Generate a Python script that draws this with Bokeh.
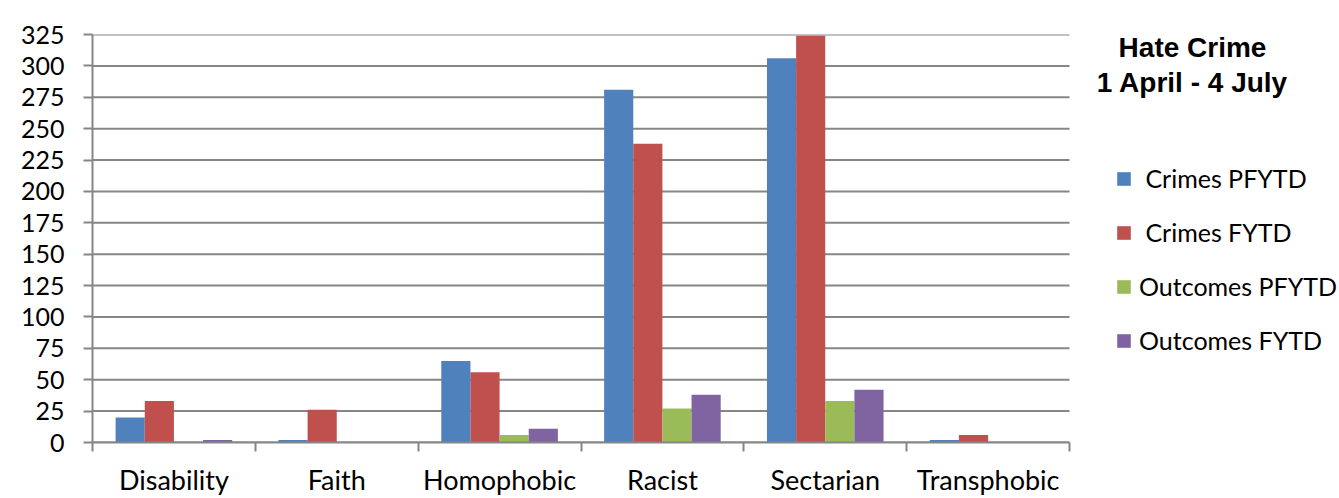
from bokeh.plotting import figure
from bokeh.models import Range1d, FixedTicker, Legend, LegendItem, Label, ColumnDataSource
from bokeh.transform import dodge
from bokeh.embed import file_html
from bokeh.resources import INLINE

categories = ["Disability", "Faith", "Homophobic", "Racist", "Sectarian", "Transphobic"]
series_names = [" Crimes PFYTD", " Crimes FYTD", "Outcomes PFYTD", "Outcomes FYTD"]
crimes_pfytd = [20, 2, 65, 281, 306, 2]
crimes_fytd = [33, 26, 56, 238, 324, 6]
outcomes_pfytd = [0, 0, 6, 27, 33, 0]
outcomes_fytd = [2, 0, 11, 38, 42, 0]
y_ticks = [0, 25, 50, 75, 100, 125, 150, 175, 200, 225, 250, 275, 300, 325]
title_lines = ["Hate Crime", "1 April - 4 July"]
colors = ["#4F81BD", "#C0504D", "#9BBB59", "#8064A2"]

GRAY = "#868686"
FONT = "Lato"

W, H = 1339, 498
BL, BR, BT, BB = 92, 2, 34, 55
PLOT_W = 977                      # pixel width of the category area
FRAME_W = W - BL - BR
n = len(categories)
x_end = n * FRAME_W / PLOT_W      # frame also holds the legend area on the right

centers = [i + 0.5 for i in range(n)]
source = ColumnDataSource(dict(
    xc=centers,
    s0=crimes_pfytd,
    s1=crimes_fytd,
    s2=outcomes_pfytd,
    s3=outcomes_fytd,
))
grid_src = ColumnDataSource(dict(y=y_ticks, x0=[0] * len(y_ticks), x1=[n] * len(y_ticks)))

p = figure(width=W, height=H, output_backend="svg", toolbar_location=None,
           x_range=Range1d(0, x_end), y_range=Range1d(0, 325),
           min_border_left=BL, min_border_right=BR, min_border_top=BT, min_border_bottom=BB)
p.outline_line_color = None
p.background_fill_color = "white"
p.border_fill_color = "white"
p.xgrid.grid_line_color = None
p.ygrid.grid_line_color = None

# horizontal gridlines limited to the category area
p.segment(x0="x0", x1="x1", y0="y", y1="y", source=grid_src,
          line_color=GRAY, line_width=2, level="underlay")

bar_w = 0.179
offsets = [-1.5 * bar_w, -0.5 * bar_w, 0.5 * bar_w, 1.5 * bar_w]
renderers = []
for k, (col, off) in enumerate(zip(["s0", "s1", "s2", "s3"], offsets)):
    r = p.vbar(x=dodge("xc", off), top=col, bottom=0, width=bar_w, source=source,
               fill_color=colors[k], line_color=None)
    renderers.append(r)

# y axis
ya = p.yaxis[0]
ya.ticker = FixedTicker(ticks=y_ticks, minor_ticks=[])
ya.axis_line_color = GRAY
ya.axis_line_width = 2
ya.major_tick_line_color = GRAY
ya.major_tick_line_width = 2
ya.major_tick_out = 9
ya.major_tick_in = 0
ya.minor_tick_line_color = None
ya.major_label_text_font = FONT
ya.major_label_text_font_size = "25px"
ya.major_label_text_color = "black"
ya.major_label_standoff = 19

# x axis
xa = p.xaxis[0]
xa.bounds = (0, n)
xa.ticker = FixedTicker(ticks=centers, minor_ticks=list(range(n + 1)))
xa.major_label_overrides = {c: name for c, name in zip(centers, categories)}
xa.axis_line_color = GRAY
xa.axis_line_width = 2
xa.major_tick_line_color = None
xa.major_tick_out = 9
xa.major_tick_in = 0
xa.minor_tick_line_color = GRAY
xa.minor_tick_line_width = 2
xa.minor_tick_out = 9
xa.minor_tick_in = 0
xa.major_label_text_font = FONT
xa.major_label_text_font_size = "27px"
xa.major_label_text_color = "black"
xa.major_label_standoff = 11

# title lines
p.add_layout(Label(x=1100, y=395, x_units="screen", y_units="screen", text=title_lines[0],
                   text_font="Liberation Sans", text_font_style="bold", text_font_size="28px",
                   text_align="center", text_baseline="alphabetic", text_color="black"))
p.add_layout(Label(x=1100, y=360, x_units="screen", y_units="screen", text=title_lines[1],
                   text_font="Liberation Sans", text_font_style="bold", text_font_size="28px",
                   text_align="center", text_baseline="alphabetic", text_color="black"))

legend = Legend(items=[LegendItem(label=nm, renderers=[r]) for nm, r in zip(series_names, renderers)],
                location=(1023, 82), orientation="vertical")
legend.padding = 0
legend.margin = 0
legend.border_line_color = None
legend.background_fill_alpha = 0
legend.glyph_width = 17
legend.glyph_height = 17
legend.label_height = 40
legend.spacing = 14
legend.label_standoff = 7
legend.label_text_font = FONT
legend.label_text_font_size = "25px"
legend.label_text_color = "black"
p.add_layout(legend, "center")

open("out.html", "w").write(file_html(p, INLINE))
